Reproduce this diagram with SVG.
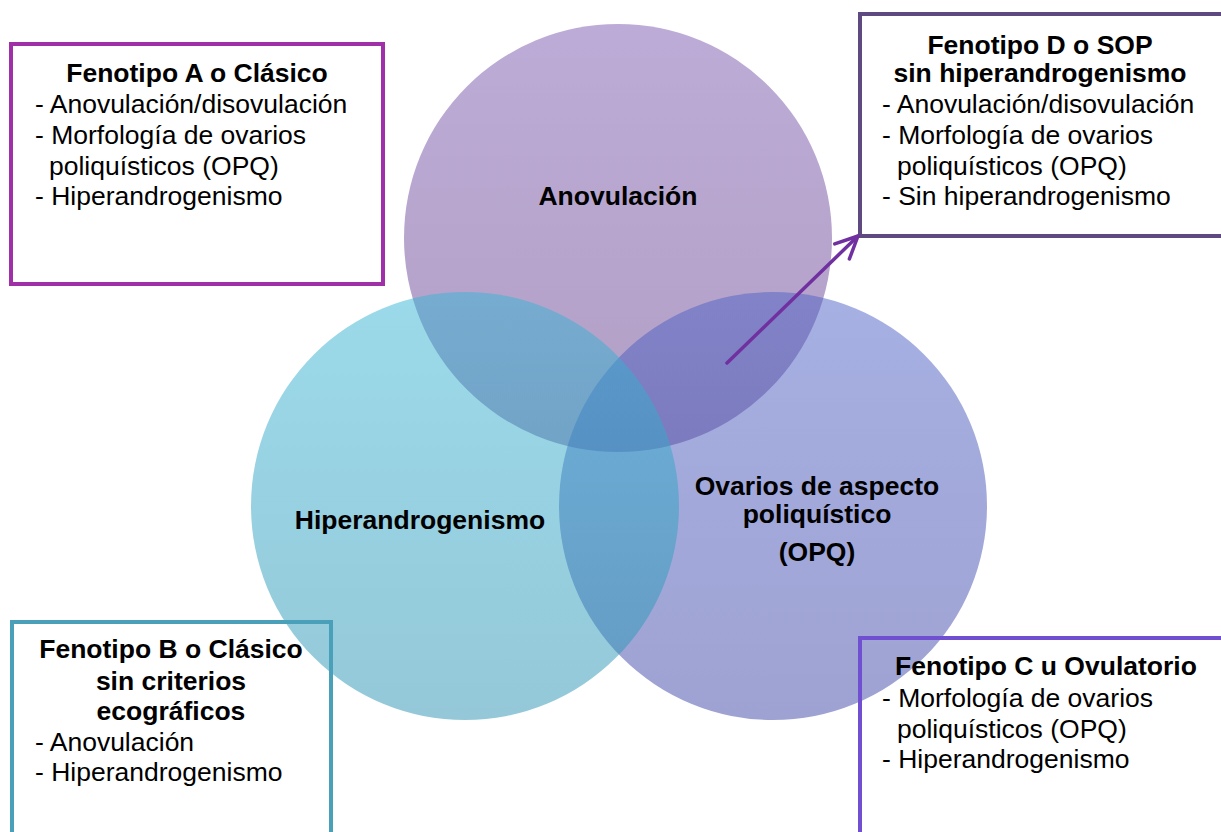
<svg xmlns="http://www.w3.org/2000/svg" width="1221" height="832" viewBox="0 0 1221 832">
<defs>
<linearGradient id="gTop" x1="0" y1="0" x2="0" y2="1"><stop offset="0" stop-color="#7a58ae"/><stop offset="1" stop-color="#633e8a"/></linearGradient>
<linearGradient id="gLeft" x1="0" y1="0" x2="0" y2="1"><stop offset="0" stop-color="#37b5d5"/><stop offset="1" stop-color="#2991b1"/></linearGradient>
<linearGradient id="gRight" x1="0" y1="0" x2="0" y2="1"><stop offset="0" stop-color="#4d61c5"/><stop offset="1" stop-color="#3d45a5"/></linearGradient>
<marker id="arr" viewBox="0 0 12 12" refX="10.5" refY="6" markerWidth="8" markerHeight="8" orient="auto" markerUnits="strokeWidth">
<path d="M1,1.5 L10.5,6 L1,10.5" fill="none" stroke="#7030a0" stroke-width="1.5" stroke-linecap="round" stroke-linejoin="round"/>
</marker>
</defs>
<style>
text{font-family:"Liberation Sans",Arial,sans-serif;font-size:26.5px;fill:#000}
.b{font-weight:bold}
.c{text-anchor:middle}
.box{fill:none;stroke-width:4}
.circ{opacity:0.5}
</style>
<rect width="1221" height="832" fill="#fff"/>
<g id="circles">
<circle id="c-anov" class="circ" cx="618" cy="238" r="214" fill="url(#gTop)"/>
<circle id="c-opq" class="circ" cx="773" cy="506" r="214" fill="url(#gRight)"/>
<circle id="c-hiper" class="circ" cx="465" cy="506" r="214" fill="url(#gLeft)"/>
<text class="b c" x="618" y="205">Anovulación</text>
<text class="b c" x="420" y="529">Hiperandrogenismo</text>
<text class="b c" x="817" y="495">Ovarios de aspecto</text>
<text class="b c" x="817" y="523">poliquístico</text>
<text class="b c" x="817" y="561">(OPQ)</text>
</g>
<g id="boxA">
<rect class="box" x="11" y="44" width="372" height="240" stroke="#a030a8"/>
<text class="b c" x="197" y="82">Fenotipo A o Clásico</text>
<text x="35" y="113">- Anovulación/disovulación</text>
<text x="35" y="144">- Morfología de ovarios</text>
<text x="49" y="175">poliquísticos (OPQ)</text>
<text x="35" y="205">- Hiperandrogenismo</text>
</g>
<g id="boxD">
<rect class="box" x="860" y="14" width="380" height="222" stroke="#5e4a80"/>
<text class="b c" x="1040" y="54">Fenotipo D o SOP</text>
<text class="b c" x="1040" y="82">sin hiperandrogenismo</text>
<text x="882" y="113">- Anovulación/disovulación</text>
<text x="882" y="144">- Morfología de ovarios</text>
<text x="897" y="175">poliquísticos (OPQ)</text>
<text x="882" y="205">- Sin hiperandrogenismo</text>
</g>
<g id="boxB">
<rect class="box" x="12" y="622" width="319" height="230" stroke="#4aa0b8"/>
<text class="b c" x="171" y="658">Fenotipo B o Clásico</text>
<text class="b c" x="171" y="690">sin criterios</text>
<text class="b c" x="171" y="720">ecográficos</text>
<text x="35" y="751">- Anovulación</text>
<text x="35" y="781">- Hiperandrogenismo</text>
</g>
<g id="boxC">
<rect class="box" x="860" y="638" width="380" height="220" stroke="#7050d0"/>
<text class="b c" x="1046" y="675">Fenotipo C u Ovulatorio</text>
<text x="882" y="707">- Morfología de ovarios</text>
<text x="897" y="738">poliquísticos (OPQ)</text>
<text x="882" y="768">- Hiperandrogenismo</text>
</g>
<g id="connectors">
<line x1="727" y1="363" x2="858" y2="236" stroke="#7030a0" stroke-width="3.5" stroke-linecap="round" marker-end="url(#arr)"/>
</g>
</svg>
